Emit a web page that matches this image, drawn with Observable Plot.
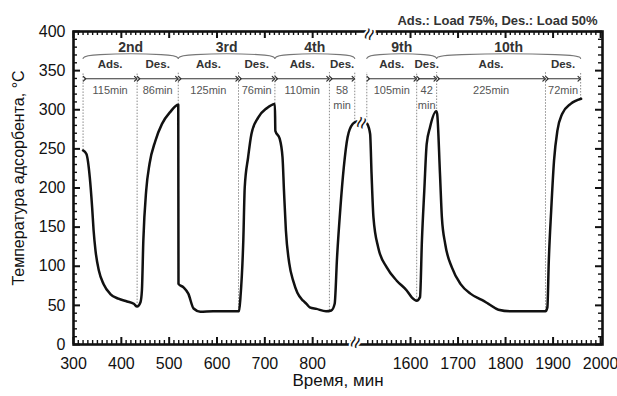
<!DOCTYPE html>
<html><head><meta charset="utf-8">
<script src="https://cdn.jsdelivr.net/npm/d3@7"></script>
<script src="https://cdn.jsdelivr.net/npm/@observablehq/plot@0.6"></script>
<style>body{margin:0;background:#fff}#chart svg{display:block}</style>
</head><body><div id="chart"></div>
<script>
// ---- data ----
// Cycles 2nd-4th (left part of broken axis)
const timeA = [320,327,334,339,342,346,353,363,377,394,412,426,433,440,443,446,452,459,471,485,502,519,519.5,530,540,551,565,592,646,649,655,658,665,672,686,704,721,722,731,737,740,744,751,760,768,780,787,794,808,828,839,846,851,858,865,873,884,892];
const tempA = [248,243.5,214,175,146,120,94.5,77,64.5,58.5,55,52,48.5,54,69,133,197,231,260,282,297,306.5,77.5,73,65,46,42,42.5,42.5,60,133,201,239,269,290,302,307.5,273,263,239,197,146,104,80,66,56,52,47.5,45.5,42.5,43.5,52,111.5,175,226,265,282,285];
// Cycles 9th-10th (right part)
const timeB = [1509,1515,1518,1522,1532,1550,1571,1592,1603,1613,1620,1624,1629,1634,1641,1654,1656,1662,1666,1673,1687,1705,1726,1750,1764,1785,1810,1852,1884,1888,1891,1896,1902,1909,1919,1937,1959];
const tempB = [282,269,218,162.5,124,98.5,81.5,69,60,56,60.5,133,197,256,277.5,298,295,218,162.5,128.5,98.5,77.5,65,57,52,44.5,42.5,42.5,42.5,47.5,107,171,235,273,294.5,307.5,314];

const cycleLabels = ["2nd","3rd","4th","9th","10th"];
const cycleStart = [320,519,721,1508,1655];
const cycleEnd   = [519,721,888,1655,1958];

const phaseLabels   = ["Ads.","Des.","Ads.","Des.","Ads.","Des.","Ads.","Des.","Ads.","Des."];
const phaseStart    = [320,433,519,645,721,835,1508,1613,1655,1884];
const phaseEnd      = [433,519,645,721,835,888,1613,1655,1884,1958];
const phaseDuration = ["115min","86min","125min","76min","110min","58\nmin","105min","42\nmin","225min","72min"];

const xTickValues = [300,400,500,600,700,800,1600,1700,1800,1900,2000];
const yTickValues = [0,50,100,150,200,250,300,350,400];
const axisBreak = [900, 1500];

const titleText = "Ads.: Load 75%, Des.: Load 50%";
const xLabel = "Время, мин";
const yLabel = "Температура адсорбента, °C";

// annotation levels (temperature units, top strip of the chart)
const lvlCycle = 380, lvlBraceTop = 371.5, lvlBraceEnd = 365.5, lvlPhase = 357.5, lvlArrow = 339.6, lvlDur = 334, lvlGuideTop = 347.5;

// ---- derived tables ----
const curve = [
  ...timeA.map((t,i)=>({t, v: tempA[i], seg: "A"})),
  ...timeB.map((t,i)=>({t, v: tempB[i], seg: "B"}))
];
function valueAt(t){
  const [ts, vs] = t < 1200 ? [timeA, tempA] : [timeB, tempB];
  const i = d3.bisectLeft(ts, t);
  if (i <= 0) return vs[0];
  if (i >= ts.length) return vs[vs.length-1];
  if (ts[i] === t) return vs[i];
  const f = (t - ts[i-1])/(ts[i]-ts[i-1]);
  return vs[i-1] + f*(vs[i]-vs[i-1]);
}
const boundaries = Array.from(new Set([...phaseStart, ...phaseEnd])).sort((a,b)=>a-b);
const guides = boundaries.map(t => ({t, v: valueAt(t)}));
const phases = phaseLabels.map((p,i)=>({p, s: phaseStart[i], e: phaseEnd[i], d: phaseDuration[i], m: (phaseStart[i]+phaseEnd[i])/2}));
const cycles = cycleLabels.map((c,i)=>({c, s: cycleStart[i], e: cycleEnd[i], m: (cycleStart[i]+cycleEnd[i])/2}));
const braces = cycles.flatMap(c => [
  {c: c.c, t: c.s, v: lvlBraceEnd},
  {c: c.c, t: c.s + 5, v: lvlBraceTop},
  {c: c.c, t: c.e - 5, v: lvlBraceTop},
  {c: c.c, t: c.e, v: lvlBraceEnd}
]);
const inGap = t => t > axisBreak[0] && t < axisBreak[1];
const majorX = xTickValues;
const minorX = [...d3.range(300, 901, 10), ...d3.range(1500, 2001, 10)].filter(t => t % 100 !== 0 && !inGap(t));
const majorY = yTickValues;
const minorY = d3.range(0, 401, 10).filter(v => v % 50 !== 0);

const W = 617, H = 396, mL = 73, mR = 15, mT = 31, mB = 52;
const fw = W - mL - mR, fh = H - mT - mB;
const narrow = "'Liberation Sans Narrow', 'Arial Narrow', 'Liberation Sans', Arial, sans-serif";
const breakMark = {x: d => (d[0]+d[1])/2, text: () => "≈", rotate: -70, fontSize: 21, fill: "#111", stroke: "white", strokeWidth: 4, paintOrder: "stroke"};

const chart = Plot.plot({
  width: W, height: H,
  marginLeft: mL, marginRight: mR, marginTop: mT, marginBottom: mB,
  style: {fontFamily: "'Liberation Sans', Arial, sans-serif", background: "white", color: "#111"},
  x: {type: "linear", domain: [300, axisBreak[0], axisBreak[1], 2004], range: [mL, 360, 362.5, W - mR]},
  y: {domain: [0, 400]},
  marks: [
    // dotted guide lines at phase boundaries
    Plot.ruleX(guides, {x: "t", y1: "v", y2: lvlGuideTop, stroke: "#8a8a8a", strokeWidth: 1, strokeDasharray: "1.5,1.5"}),
    // temperature curve
    Plot.line(curve, {x: "t", y: "v", z: "seg", stroke: "#111", strokeWidth: 2.5, curve: "monotone-x"}),
    // frame
    Plot.frame({stroke: "#111", strokeWidth: 2.6}),
    // inward ticks: bottom / top
    Plot.tickX(majorX, {x: d => d, insetTop: fh - 7, stroke: "#111", strokeWidth: 2}),
    Plot.tickX(minorX, {x: d => d, insetTop: fh - 4, stroke: "#111", strokeWidth: 1.4}),
    Plot.tickX(majorX, {x: d => d, insetBottom: fh - 7, stroke: "#111", strokeWidth: 2}),
    Plot.tickX(minorX, {x: d => d, insetBottom: fh - 4, stroke: "#111", strokeWidth: 1.4}),
    // inward ticks: left / right
    Plot.tickY(majorY, {y: d => d, insetRight: fw - 7, stroke: "#111", strokeWidth: 2}),
    Plot.tickY(minorY, {y: d => d, insetRight: fw - 4, stroke: "#111", strokeWidth: 1.4}),
    Plot.tickY(majorY, {y: d => d, insetLeft: fw - 7, stroke: "#111", strokeWidth: 2}),
    Plot.tickY(minorY, {y: d => d, insetLeft: fw - 4, stroke: "#111", strokeWidth: 1.4}),
    // axis tick labels
    Plot.axisX(xTickValues, {tickSize: 0, tickPadding: 13, fontSize: 16, fontFamily: narrow, label: null, tickFormat: d => String(d)}),
    Plot.axisY(yTickValues, {tickSize: 0, tickPadding: 8, fontSize: 16, fontFamily: narrow, label: null}),
    // axis-break symbols
    Plot.text([axisBreak], {...breakMark, frameAnchor: "bottom"}),
    Plot.text([axisBreak], {...breakMark, frameAnchor: "top"}),
    Plot.text([axisBreak], {...breakMark, y: d => (valueAt(892) + valueAt(1509))/2, strokeWidth: 3}),
    // cycle braces and labels
    Plot.line(braces, {x: "t", y: "v", z: "c", stroke: "#777", strokeWidth: 1.1, curve: "basis"}),
    Plot.text(cycles, {x: "m", y: lvlCycle, text: "c", fontSize: 14, fontWeight: "bold", fill: "#333"}),
    // phase labels, arrows and durations
    Plot.text(phases, {x: "m", y: lvlPhase, text: "p", fontSize: 11.5, fontWeight: "bold", fill: "#333"}),
    Plot.link(phases, {x1: d => d.s + 3, x2: d => d.e - 3, y1: lvlArrow, y2: lvlArrow, stroke: "#333", strokeWidth: 1.2, markerStart: "arrow", markerEnd: "arrow"}),
    Plot.text(phases, {x: "m", y: lvlDur, text: "d", fontSize: 11, fill: "#555", lineAnchor: "top", lineHeight: 1.35}),
    // title and axis labels
    Plot.text([titleText], {frameAnchor: "top-right", dx: -5, dy: -16, text: d => d, fontSize: 13, fontWeight: "bold", fill: "#333"}),
    Plot.text([xLabel], {frameAnchor: "bottom", dy: 41, text: d => d, fontSize: 17, fill: "#111"}),
    Plot.text([yLabel], {frameAnchor: "left", dx: -55, dy: -10, rotate: -90, textAnchor: "middle", text: d => d, fontSize: 16, fill: "#111"})
  ]
});
document.getElementById("chart").append(chart);
</script>
</body></html>
